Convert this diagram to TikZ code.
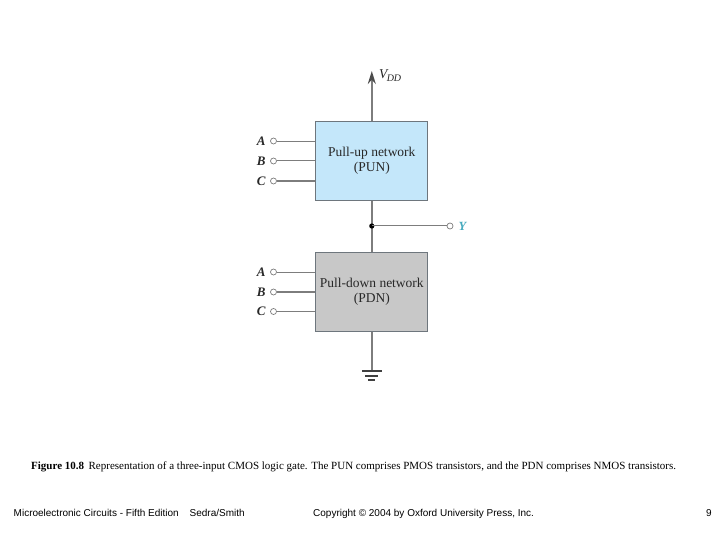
\documentclass[tikz,border=0pt]{standalone}
\usepackage{fontspec}
\setmainfont{Liberation Serif}
\setsansfont{Liberation Sans}
\usepackage{xcolor}
\usetikzlibrary{arrows.meta, positioning, calc}
\definecolor{cPun}{RGB}{196,231,250}
\definecolor{cPdn}{RGB}{200,200,200}
\definecolor{cEdge}{RGB}{110,118,125}
\definecolor{cWire}{RGB}{125,125,125}
\definecolor{cOut}{RGB}{70,170,190}
\definecolor{cText}{RGB}{40,40,40}
\tikzset{
	netblk/.style ={rectangle, draw=cEdge, line width=1.2pt, minimum width=112pt, minimum height=78.5pt, align=center, text=cText, font=\fontsize{13.5}{15}\selectfont, inner sep=0pt},
	term/.style   ={circle, draw=cWire, line width=0.7pt, fill=white, minimum size=6pt, inner sep=0pt},
	wire/.style   ={draw=cWire, line width=1.6pt},
	sigwire/.style={draw=cWire, line width=1pt},
	gndbar/.style ={draw=black!75, line width=2pt},
	inlabel/.style={font=\fontsize{13}{13}\selectfont\itshape\bfseries, text=cText, inner sep=0pt},
	footer/.style ={font=\sffamily\fontsize{10}{10}\selectfont, anchor=base west, inner sep=0pt},
}
\begin{document}
\begin{tikzpicture}[x=1pt, y=-1pt]
	\useasboundingbox (0,0) rectangle (720,540);
	\fill[white] (0,0) rectangle (720,540);
	% pull-up and pull-down blocks
	\node[netblk, fill=cPun] (pun) at (371.8,161) {Pull-up network\\(PUN)};
	\node[netblk, fill=cPdn] (pdn) at (371.8,292) {Pull-down network\\(PDN)};
	% supply, output node and ground
	\coordinate (vdd) at (371.8,71);
	\coordinate (gnd) at (371.8,370.5);
	\coordinate (mid) at (371.8,226);
	\draw[wire, -{Stealth[length=13pt, width=8pt, black!70]}] (pun.north) -- (vdd);
	\node[right=7pt of vdd, yshift=-4.5pt, font=\fontsize{13.5}{13.5}\selectfont\itshape, text=cText, inner sep=0pt] (vddlabel) {V\kern-0.5pt\raisebox{-2.5pt}{\fontsize{10}{10}\selectfont DD}};
	\draw[wire] (pun.south) -- (pdn.north);
	\draw[wire] (pdn.south) -- (gnd);
	\fill[black] (mid) circle (2.6pt);
	\node[term] (yterm) at (450,226) {};
	\node[right=5pt of yterm, font=\fontsize{12.5}{12.5}\selectfont\itshape\bfseries, text=cOut, inner sep=0pt] (ylabel) {Y};
	\draw[sigwire] (mid) -- (yterm);
	% ground bars
	\draw[gndbar] ($(gnd)+(-10,0)$) -- ($(gnd)+(10,0)$);
	\draw[gndbar] ($(gnd)+(-6.5,5)$) -- ($(gnd)+(6.5,5)$);
	\draw[gndbar] ($(gnd)+(-3.5,9.5)$) -- ($(gnd)+(3.5,9.5)$);
	% inputs
	\foreach \n/\yy/\ww in {A/141/0.5,B/161/1,C/181/1.2} {
		\node[term] (up\n) at (273.5,\yy) {};
		\node[inlabel, left=4.5pt of up\n] (uplabel\n) {\n};
		\coordinate (upend\n) at (pun.west |- up\n);
		\draw[sigwire, line width=\ww pt] (up\n) -- (upend\n);
	}
	\foreach \n/\yy/\ww in {A/272/1,B/292/1.3,C/311.5/1} {
		\node[term] (dn\n) at (273.5,\yy) {};
		\node[inlabel, left=4.5pt of dn\n] (dnlabel\n) {\n};
		\coordinate (dnend\n) at (pdn.west |- dn\n);
		\draw[sigwire, line width=\ww pt] (dn\n) -- (dnend\n);
	}
	% caption and footer
	\node[anchor=base west, inner sep=0pt, font=\fontsize{11}{11}\selectfont] (caption) at (31,469.5) {\textbf{Figure 10.8}\hspace{4.5pt}Representation of a three-input CMOS logic gate. The PUN comprises PMOS transistors, and the PDN comprises NMOS transistors.};
	\node[footer] (book) at (13.5,516.5) {Microelectronic Circuits - Fifth Edition};
	\node[footer] (names) at (189.5,516.5) {Sedra/Smith};
	\node[footer] (copy) at (313,516.5) {Copyright © 2004 by Oxford University Press, Inc.};
	\node[footer] (page) at (706,516.5) {9};
\end{tikzpicture}
\end{document}
